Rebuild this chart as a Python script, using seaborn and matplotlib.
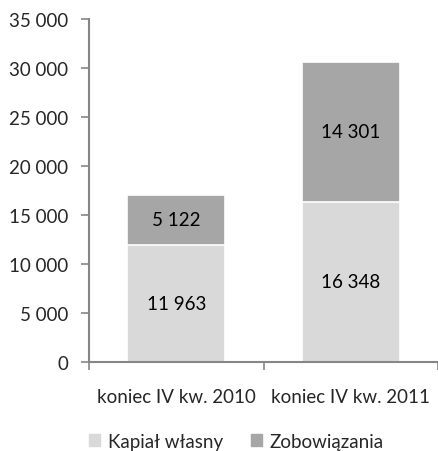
import matplotlib
matplotlib.use("Agg")
import matplotlib.pyplot as plt
import matplotlib.patches as mpatches
import seaborn as sns
import pandas as pd

categories = ["koniec IV kw. 2010", "koniec IV kw. 2011"]
kapital = [11963, 16348]
zobowiazania = [5122, 14301]
series_names = ["Kapiał własny", "Zobowiązania"]
yticks = [0, 5000, 10000, 15000, 20000, 25000, 30000, 35000]

light = "#d9d9d9"
dark = "#a6a6a6"
axis_col = "#868686"


def fmt(v):
    return f"{v:,}".replace(",", " ")


sns.set_style("white")
plt.rcParams["font.family"] = ["Lato", "DejaVu Sans"]

df = pd.DataFrame({"kat": categories, "kapital": kapital, "zob": zobowiazania})
df["suma"] = df["kapital"] + df["zob"]

fig = plt.figure(figsize=(4.38, 4.52), dpi=100)
ax = fig.add_axes([89 / 438, 89 / 452, 349 / 438, 343 / 452])

sns.barplot(data=df, x="kat", y="suma", color=dark, width=0.56,
            edgecolor="white", linewidth=1.2, saturation=1, ax=ax)
sns.barplot(data=df, x="kat", y="kapital", color=light, width=0.56,
            edgecolor="white", linewidth=1.2, saturation=1, ax=ax)

for i, row in df.iterrows():
    ax.text(i, row["kapital"] / 2, fmt(row["kapital"]), ha="center", va="center",
            fontsize=13.5, color="black")
    ax.text(i, row["kapital"] + row["zob"] / 2, fmt(row["zob"]), ha="center",
            va="center", fontsize=13.5, color="black")

ax.set_xlim(-0.5, 1.5)
ax.set_ylim(0, 35000)
ax.set_yticks(yticks)
ax.set_yticklabels([fmt(t) for t in yticks], fontsize=13.5)
ax.set_xticks(range(len(categories)))
ax.set_xticklabels(categories, fontsize=13.5)
ax.set_xticks([-0.5, 0.5, 1.5], minor=True)
ax.tick_params(axis="x", which="major", length=0, pad=19)
ax.tick_params(axis="x", which="minor", length=6, width=1.2, color=axis_col,
               direction="out", bottom=True)
ax.tick_params(axis="y", length=6, width=1.2, color=axis_col, direction="out",
               left=True, pad=9)
ax.set_xlabel("")
ax.set_ylabel("")

for s in ["top", "right"]:
    ax.spines[s].set_visible(False)
for s in ["left", "bottom"]:
    ax.spines[s].set_color(axis_col)
    ax.spines[s].set_linewidth(1.5)

handles = [mpatches.Patch(color=light, label=series_names[0]),
           mpatches.Patch(color=dark, label=series_names[1])]
fig.legend(handles=handles, loc="center", bbox_to_anchor=(0.54, 0.022),
           ncol=2, frameon=False, fontsize=13.5, handlelength=0.6,
           handleheight=0.6, handletextpad=0.4, columnspacing=1.5)

fig.savefig("out.png", dpi=100)
